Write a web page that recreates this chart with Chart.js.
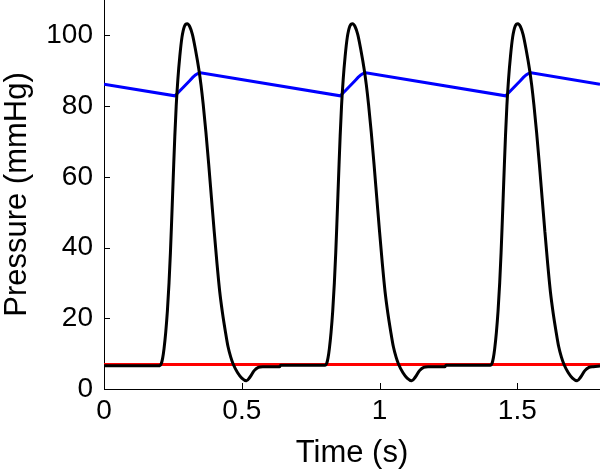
<!DOCTYPE html>
<html>
<head>
<meta charset="utf-8">
<script src="https://cdn.jsdelivr.net/npm/chart.js@4"></script>
<style>
  html, body { margin: 0; padding: 0; background: #fff; }
  #wrap { width: 600px; height: 471px; }
</style>
</head>
<body>
<div id="wrap"><canvas id="main-chart"></canvas></div>
<script>
// ventricular pressure (black)
const lvTime = [0, 0.203, 0.208, 0.213, 0.218, 0.224, 0.23, 0.236, 0.241, 0.245, 0.249, 0.253, 0.257, 0.262, 0.268, 0.275, 0.283, 0.292, 0.302, 0.311, 0.321, 0.333, 0.344, 0.352, 0.36, 0.37, 0.38, 0.39, 0.4, 0.41, 0.42, 0.43, 0.44, 0.45, 0.46, 0.469, 0.485, 0.5, 0.517, 0.53, 0.545, 0.56, 0.576, 0.637, 0.641,
  0.803, 0.808, 0.813, 0.818, 0.824, 0.83, 0.836, 0.841, 0.845, 0.849, 0.853, 0.857, 0.862, 0.868, 0.875, 0.883, 0.892, 0.902, 0.911, 0.921, 0.933, 0.944, 0.952, 0.96, 0.97, 0.98, 0.99, 1.0, 1.01, 1.02, 1.03, 1.04, 1.05, 1.06, 1.069, 1.085, 1.1, 1.117, 1.13, 1.145, 1.16, 1.176, 1.237, 1.241,
  1.403, 1.408, 1.413, 1.418, 1.424, 1.43, 1.436, 1.441, 1.445, 1.449, 1.453, 1.457, 1.462, 1.468, 1.475, 1.483, 1.492, 1.502, 1.511, 1.521, 1.533, 1.544, 1.552, 1.56, 1.57, 1.58, 1.59, 1.6, 1.61, 1.62, 1.63, 1.64, 1.65, 1.66, 1.669, 1.685, 1.7, 1.717, 1.73, 1.745, 1.76, 1.776, 1.8];
const lvPressure = [6.6, 6.6, 7.2, 8.8, 11.5, 16, 22, 30, 38.5, 46.5, 55, 63.5, 71.5, 80, 87.5, 94, 99.5, 102.6, 103.3, 102.5, 100.2, 95.5, 90.5, 86, 80.5, 72.5, 63.5, 54, 44.5, 35.5, 27.5, 21.5, 16.5, 12, 9, 7, 4.6, 3.1, 2.35, 3.4, 5.2, 6.1, 6.3, 6.3, 6.7,
  6.7, 7.2, 8.8, 11.5, 16, 22, 30, 38.5, 46.5, 55, 63.5, 71.5, 80, 87.5, 94, 99.5, 102.6, 103.3, 102.5, 100.2, 95.5, 90.5, 86, 80.5, 72.5, 63.5, 54, 44.5, 35.5, 27.5, 21.5, 16.5, 12, 9, 7, 4.6, 3.1, 2.35, 3.4, 5.2, 6.1, 6.3, 6.3, 6.7,
  6.7, 7.2, 8.8, 11.5, 16, 22, 30, 38.5, 46.5, 55, 63.5, 71.5, 80, 87.5, 94, 99.5, 102.6, 103.3, 102.5, 100.2, 95.5, 90.5, 86, 80.5, 72.5, 63.5, 54, 44.5, 35.5, 27.5, 21.5, 16.5, 12, 9, 7, 4.6, 3.1, 2.35, 3.4, 5.2, 6.1, 6.3, 6.5];

// aortic pressure (blue)
const aoTime = [0, 0.257, 0.265, 0.28, 0.295, 0.31, 0.322, 0.332, 0.34, 0.35,
  0.857, 0.865, 0.88, 0.895, 0.91, 0.922, 0.932, 0.94, 0.95,
  1.457, 1.465, 1.48, 1.495, 1.51, 1.522, 1.532, 1.54, 1.55, 1.8];
const aoPressure = [86.2, 82.9, 83.5, 84.7, 85.9, 87.1, 88.1, 88.8, 89.2, 89.4,
  82.9, 83.5, 84.7, 85.9, 87.1, 88.1, 88.8, 89.2, 89.4,
  82.9, 83.5, 84.7, 85.9, 87.1, 88.1, 88.8, 89.2, 89.4, 86.2];

// atrial pressure (red)
const laTime = [0, 1.8];
const laPressure = [6.9, 6.9];

const xTicks = [0, 0.5, 1, 1.5];
const yTicks = [0, 20, 40, 60, 80, 100];

function toPoints(ts, vs) {
    return ts.map(function (t, i) { return {x: t, y: vs[i]}; });
}

const font = "'Liberation Sans', Arial, Helvetica, sans-serif";

// ticks pointing into the plot, like the original figure
const inwardTicks = {
    id: 'inwardTicks',
    afterDatasetsDraw(chart) {
        let c = chart.ctx, x = chart.scales.x, y = chart.scales.y;
        c.save();
        c.strokeStyle = '#000';
        c.lineWidth = 1;
        c.beginPath();
        x.ticks.forEach(function (t) {
            let px = Math.round(x.getPixelForValue(t.value)) + 0.5;
            c.moveTo(px, y.bottom);
            c.lineTo(px, y.bottom - 6);
        });
        y.ticks.forEach(function (t) {
            let py = Math.round(y.getPixelForValue(t.value)) + 0.5;
            c.moveTo(x.left, py);
            c.lineTo(x.left + 6, py);
        });
        c.stroke();
        c.restore();
    }
};

let ctx = document.getElementById('main-chart');

new Chart(ctx, {
    type: 'line',
    data: {
        datasets: [
            {
                label: 'Ventricle',
                data: toPoints(lvTime, lvPressure),
                borderColor: '#000000',
                borderWidth: 3,
                pointRadius: 0,
                cubicInterpolationMode: 'monotone',
                fill: false
            },
            {
                label: 'Aorta',
                data: toPoints(aoTime, aoPressure),
                borderColor: '#0000ff',
                borderWidth: 3,
                pointRadius: 0,
                tension: 0,
                fill: false
            },
            {
                label: 'Atrium',
                data: toPoints(laTime, laPressure),
                borderColor: '#ff0000',
                borderWidth: 3,
                pointRadius: 0,
                fill: false
            }
        ]
    },
    options: {
        responsive: true,
        maintainAspectRatio: false,
        animation: false,
        layout: { padding: 0 },
        plugins: {
            legend: { display: false },
            tooltip: { enabled: false }
        },
        scales: {
            x: {
                type: 'linear',
                min: 0,
                max: 1.8,
                grid: { display: false, drawTicks: false },
                border: { display: true, color: '#000', width: 1 },
                ticks: {
                    color: '#000',
                    padding: 5,
                    maxRotation: 0,
                    font: { family: font, size: 28 },
                    callback: function (v) { return String(v); }
                },
                title: {
                    display: true,
                    text: 'Time (s)',
                    color: '#000',
                    padding: 0,
                    font: { family: font, size: 31, lineHeight: 1.1 }
                },
                afterBuildTicks(scale) {
                    scale.ticks = xTicks.map(function (v) { return {value: v}; });
                },
                afterFit(scale) {
                    scale.height = 82;
                    scale.paddingLeft = 0;
                    scale.paddingRight = 0;
                }
            },
            y: {
                min: 0,
                max: 110,
                grid: { display: false, drawTicks: false },
                border: { display: true, color: '#000', width: 1 },
                ticks: {
                    color: '#000',
                    padding: 11,
                    font: { family: font, size: 28 },
                    callback: function (v) { return String(v); }
                },
                title: {
                    display: true,
                    text: 'Pressure (mmHg)',
                    color: '#000',
                    padding: 0,
                    font: { family: font, size: 31, lineHeight: 1.1 }
                },
                afterBuildTicks(scale) {
                    scale.ticks = yTicks.map(function (v) { return {value: v}; });
                },
                afterFit(scale) {
                    scale.width = 104;
                    scale.paddingTop = 0;
                    scale.paddingBottom = 0;
                }
            }
        }
    },
    plugins: [inwardTicks]
});
</script>
</body>
</html>
